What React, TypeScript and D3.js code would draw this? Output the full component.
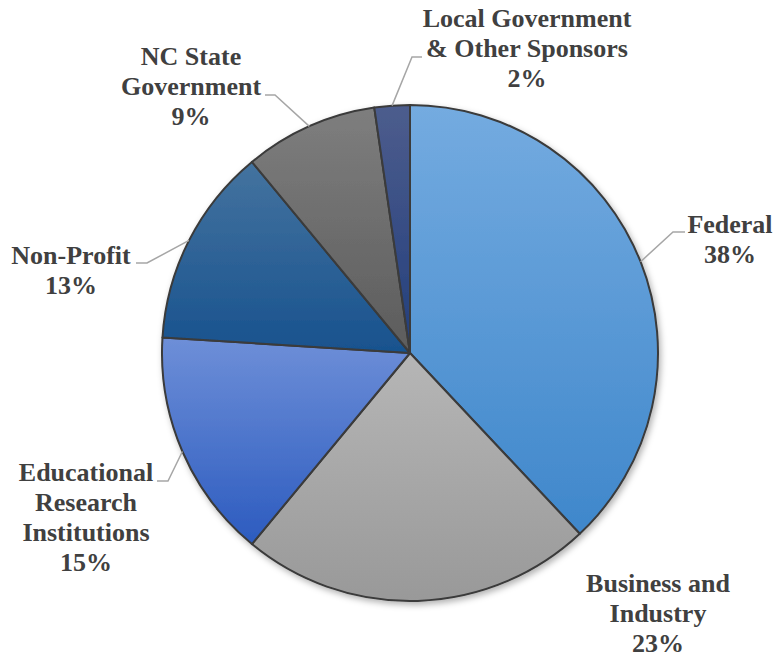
import React from "react";
import * as d3 from "d3";

const categories = [
  "Federal",
  "Business and Industry",
  "Educational Research Institutions",
  "Non-Profit",
  "NC State Government",
  "Local Government & Other Sponsors",
];
const values = [38, 23, 15, 13, 8.7, 2.3];
const percentLabels = ["38%", "23%", "15%", "13%", "9%", "2%"];
const labelLines = [
  ["Federal"],
  ["Business and", "Industry"],
  ["Educational", "Research", "Institutions"],
  ["Non-Profit"],
  ["NC State", "Government"],
  ["Local Government", "& Other Sponsors"],
];

// styling / layout (not data)
const gradients = [
  ["#74abe0", "#3f87cb"],
  ["#b6b6b6", "#999999"],
  ["#6e8fd8", "#2c5bbf"],
  ["#44739f", "#18528e"],
  ["#7e7e7e", "#5c5c5c"],
  ["#4d5d8d", "#223e7c"],
];
const labelLayout = [
  { x: 730, y: 233, leader: [[673, 232], [685, 232]] },
  { x: 658, y: 592, leader: null },
  { x: 86, y: 481, leader: [[168, 481], [157, 481]] },
  { x: 71, y: 264, leader: [[147, 263], [136, 263]] },
  { x: 191, y: 65, leader: [[275, 95], [265, 95]] },
  { x: 527, y: 27, leader: [[412, 57], [422, 57]] },
];

const W = 776;
const H = 657;
const cx = 410;
const cy = 353;
const R = 248;
const LH = 30;
const FONT = '"Liberation Serif", "Times New Roman", Tinos, Times, "DejaVu Serif", serif';

export default function App() {
  const pie = d3.pie<number>().sort(null).value((d) => d);
  const arcs = pie(values);
  const arc = d3.arc<d3.PieArcDatum<number>>().innerRadius(0).outerRadius(R);

  return (
    <svg
      width={W}
      height={H}
      style={{ position: "absolute", left: 0, top: 0 }}
      viewBox={`0 0 ${W} ${H}`}
    >
      <defs>
        {gradients.map((g, i) => (
          <linearGradient key={i} id={`g${i}`} x1="0" y1="0" x2="0" y2="1">
            <stop offset="0%" stopColor={g[0]} />
            <stop offset="100%" stopColor={g[1]} />
          </linearGradient>
        ))}
        <filter id="shadow" x="-10%" y="-10%" width="120%" height="120%">
          <feDropShadow dx="2" dy="3" stdDeviation="3" floodColor="#000" floodOpacity="0.3" />
        </filter>
      </defs>
      <rect width={W} height={H} fill="#ffffff" />
      <g transform={`translate(${cx},${cy})`} filter="url(#shadow)">
        {arcs.map((a, i) => (
          <path
            key={categories[i]}
            d={arc(a) || ""}
            fill={`url(#g${i})`}
            stroke="#3a3a3a"
            strokeWidth={2}
            strokeLinejoin="round"
          />
        ))}
      </g>
      {arcs.map((a, i) => {
        const L = labelLayout[i];
        if (!L.leader) return null;
        const mid = (a.startAngle + a.endAngle) / 2;
        const sx = cx + R * Math.sin(mid);
        const sy = cy - R * Math.cos(mid);
        const pts = [[sx, sy], ...L.leader];
        return (
          <polyline
            key={"l" + i}
            points={pts.map((p) => p.join(",")).join(" ")}
            fill="none"
            stroke="#a6a6a6"
            strokeWidth={1.5}
          />
        );
      })}
      {labelLines.map((lines, i) => {
        const L = labelLayout[i];
        const all = [...lines, percentLabels[i]];
        return (
          <text
            key={"t" + i}
            x={L.x}
            y={L.y}
            textAnchor="middle"
            style={{ fontFamily: FONT, fontWeight: 700, fontSize: "26px" }}
            fill="#404040"
          >
            {all.map((s, j) => (
              <tspan key={j} x={L.x} y={L.y + j * LH}>
                {s}
              </tspan>
            ))}
          </text>
        );
      })}
    </svg>
  );
}
